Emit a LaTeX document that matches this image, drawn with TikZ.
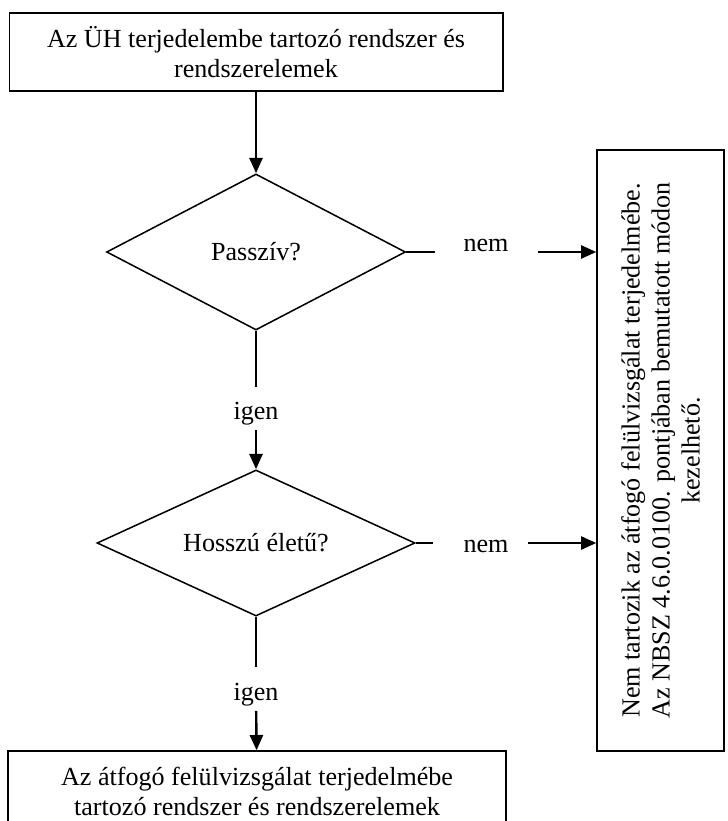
\documentclass[tikz,border=0pt]{standalone}
\usepackage{fontspec}
\setmainfont{Liberation Serif}
\usetikzlibrary{positioning}
\usetikzlibrary{shapes.geometric}
\usetikzlibrary{arrows.meta}
\tikzset{%
  box/.style = {rectangle,draw,line width=0.7pt,align=center,
        inner sep=0pt},
  dec/.style = {diamond,draw,line width=0.7pt,aspect=2,
        inner sep=0pt},
  lbl/.style = {inner sep=0pt},
  ln/.style = {line width=0.5pt},
  arr/.style = {-{Triangle[length=7pt,width=6pt]},line width=1.1pt}
}

\begin{document}
\begin{tikzpicture}[x=0.46pt,y=-0.46pt,font=\fontsize{12}{13.8}\selectfont]
  \clip (0,0) rectangle (727,821);
  \node[box,minimum width=227pt,minimum height=36pt] (top) at (256,52)
        {Az ÜH terjedelembe tartozó rendszer és\\rendszerelemek};
  \node[dec,minimum width=137.5pt,minimum height=71.8pt] (d1) at (256,252) {Passzív?};
  \node[dec,minimum width=146.3pt,minimum height=67.2pt] (d2) at (256,543) {Hosszú életű?};
  \node[box,minimum width=229pt,minimum height=36.8pt] (bot) at (257,791)
        {Az átfogó felülvizsgálat terjedelmébe\\tartozó rendszer és rendszerelemek};
  \node[box,rotate=90,minimum width=276.5pt,minimum height=58.4pt] (rb) at (660.5,450.5)
        {Nem tartozik az átfogó felülvizsgálat terjedelmébe.\\Az NBSZ 4.6.0.0100. pontjában bemutatott módon\\kezelhető.};

  \node[lbl,anchor=base] (n1) at (486,252) {nem};
  \node[lbl,anchor=base] (n2) at (486,552) {nem};
  \node[lbl,anchor=base] (i1) at (256,420) {igen};
  \node[lbl,anchor=base] (i2) at (256,700) {igen};

  \draw[arr] (top) -- (d1);
  \draw[ln,shorten >=7pt] (d1) -- (i1);
  \draw[arr,shorten <=2pt] (i1) -- (d2);
  \draw[ln,shorten >=7pt] (d2) -- (i2);
  \draw[arr,shorten <=2.2pt] (i2) -- (bot);

  % nem branches
  \draw[ln,shorten >=12.9pt] (d1.east) -- (d1.east -| n1.west);
  \draw[arr,shorten <=13.3pt] (d1.east -| n1.east) -- (d1.east -| rb.north);
  \draw[ln,shorten >=13.8pt] (d2.east) -- (d2.east -| n2.west);
  \draw[arr,shorten <=8.7pt] (d2.east -| n2.east) -- (d2.east -| rb.north);
\end{tikzpicture}
\end{document}
